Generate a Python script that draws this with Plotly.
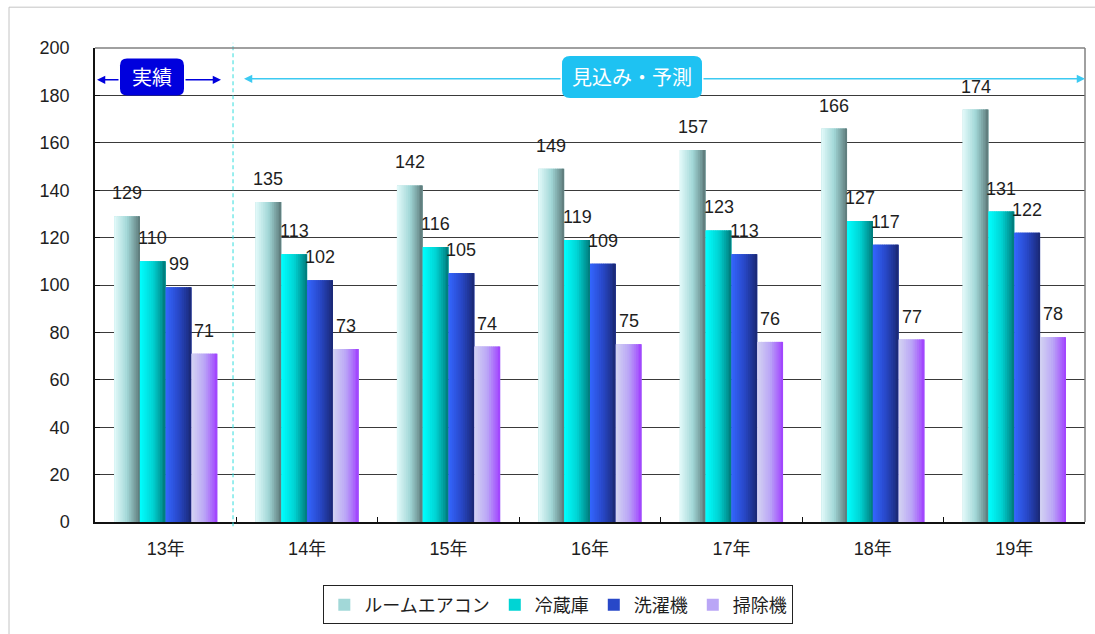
import plotly.graph_objects as go

# 家電の国内需要推移（13年 実績、14年以降 見込み・予測）
years = ["13年", "14年", "15年", "16年", "17年", "18年", "19年"]
series_names = ["ルームエアコン", "冷蔵庫", "洗濯機", "掃除機"]
aircon = [129, 135, 142, 149, 157, 166, 174]
fridge = [110, 113, 116, 119, 123, 127, 131]
washer = [99, 102, 105, 109, 113, 117, 122]
cleaner = [71, 73, 74, 75, 76, 77, 78]
y_ticks = [0, 20, 40, 60, 80, 100, 120, 140, 160, 180, 200]

series_values = [aircon, fridge, washer, cleaner]

# horizontal gradient stops (left, middle, right) for each series
gradients = [
    [(228, 250, 250), (162, 216, 216), (92, 120, 120)],
    [(0, 255, 255), (0, 212, 212), (0, 122, 122)],
    [(52, 102, 255), (40, 72, 200), (26, 40, 116)],
    [(212, 212, 242), (186, 166, 246), (160, 64, 255)],
]

FONT = "Liberation Sans, Arial, Noto Sans CJK JP, sans-serif"
TEXT_COLOR = "#1e1e1e"

W, H = 1095, 634
M_L, M_R, M_T, M_B = 95, 10, 48, 110
PLOT_W = W - M_L - M_R
PLOT_H = H - M_T - M_B
PX_PER_CAT = PLOT_W / len(years)

GROUP = 0.73
BAR_W = GROUP / len(series_names)
N_STRIPES = 14


def grad_color(stops, t):
    if t <= 0.5:
        a, b, f = stops[0], stops[1], t / 0.5
    else:
        a, b, f = stops[1], stops[2], (t - 0.5) / 0.5
    c = [round(a[k] + (b[k] - a[k]) * f) for k in range(3)]
    return f"rgb({c[0]},{c[1]},{c[2]})"


fig = go.Figure()

for i, (name, vals, stops) in enumerate(zip(series_names, series_values, gradients)):
    off = -GROUP / 2 + i * BAR_W
    # solid base bar (also provides the legend entry)
    fig.add_trace(go.Bar(
        x=years, y=vals, name=name, offset=off, width=BAR_W,
        marker=dict(color=grad_color(stops, 0.5), line=dict(width=0)),
        hoverinfo="x+y+name",
    ))
    # gradient stripes laid over the base bar
    step = BAR_W / N_STRIPES
    for k in range(N_STRIPES):
        fig.add_trace(go.Bar(
            x=years, y=vals, offset=off + k * step,
            width=step * (1.6 if k < N_STRIPES - 1 else 1.0),
            marker=dict(color=grad_color(stops, (k + 0.5) / N_STRIPES), line=dict(width=0)),
            showlegend=False, hoverinfo="skip",
        ))
    # value labels above each bar
    for j, v in enumerate(vals):
        fig.add_annotation(
            x=j + off + BAR_W / 2, y=v, xref="x", yref="y",
            text=str(v), showarrow=False, yanchor="bottom", yshift=11,
            font=dict(family=FONT, size=18, color=TEXT_COLOR),
        )


def cat_from_px(px):
    return (px - M_L) / PX_PER_CAT - 0.5


def data_from_py(py):
    return (M_T + PLOT_H - py) / PLOT_H * 200


def rounded_box(cx, cy, w, h, r, color):
    hw, hh = w / 2, h / 2
    path = (
        f"M {-hw + r},{-hh} L {hw - r},{-hh} Q {hw},{-hh} {hw},{-hh + r} "
        f"L {hw},{hh - r} Q {hw},{hh} {hw - r},{hh} "
        f"L {-hw + r},{hh} Q {-hw},{hh} {-hw},{hh - r} "
        f"L {-hw},{-hh + r} Q {-hw},{-hh} {-hw + r},{-hh} Z"
    )
    fig.add_shape(
        type="path", path=path, xref="x", yref="y",
        xsizemode="pixel", ysizemode="pixel", xanchor=cx, yanchor=cy,
        fillcolor=color, line=dict(width=0), layer="above",
    )


def arrow(x_from, x_to, y, color):
    fig.add_annotation(
        x=x_to, y=y, ax=x_from, ay=y, xref="x", yref="y", axref="x", ayref="y",
        text="", showarrow=True, arrowhead=2, arrowsize=1.1, arrowwidth=1.5,
        arrowcolor=color,
    )


# 実績 label with double arrow
BLUE = "#0000dd"
act_cx, act_y, act_w, act_h = cat_from_px(152), data_from_py(77), 64, 37
arrow(act_cx - act_w / 2 / PX_PER_CAT, cat_from_px(97), data_from_py(80), BLUE)
arrow(act_cx + act_w / 2 / PX_PER_CAT, cat_from_px(221), data_from_py(80), BLUE)
rounded_box(act_cx, act_y, act_w, act_h, 7, BLUE)
fig.add_annotation(
    x=act_cx, y=act_y, xref="x", yref="y", text="実績", showarrow=False,
    font=dict(family="Noto Sans CJK JP", size=20, color="white"),
)

# 見込み・予測 label with double arrow
CYAN = "#1ec2f2"
fc_cx, fc_y, fc_w, fc_h = cat_from_px(632), data_from_py(77), 140, 42
arrow(fc_cx - fc_w / 2 / PX_PER_CAT, cat_from_px(244), data_from_py(79), "#3ccaf2")
arrow(fc_cx + fc_w / 2 / PX_PER_CAT, 6.5, data_from_py(79), "#3ccaf2")
rounded_box(fc_cx, fc_y, fc_w, fc_h, 8, CYAN)
fig.add_annotation(
    x=fc_cx, y=fc_y, xref="x", yref="y", text="見込み・予測", showarrow=False,
    font=dict(family="Noto Sans CJK JP", size=20, color="white"),
)

# dashed divider between actual and forecast periods
fig.add_shape(
    type="line", xref="x", yref="paper", x0=0.476, x1=0.476, y0=-0.009, y1=1.011,
    line=dict(color="#33dddd", width=1, dash="4px,3px"), layer="above",
)

# gray top and right frame of the plot area
fig.add_shape(type="line", xref="paper", yref="paper", x0=0, x1=1, y0=1, y1=1,
              line=dict(color="#808080", width=1.5))
fig.add_shape(type="line", xref="paper", yref="paper", x0=1, x1=1, y0=0, y1=1,
              line=dict(color="#808080", width=1.5))

# light outer frame of the chart
fig.add_shape(type="rect", xref="paper", yref="paper",
              x0=(9 - M_L) / PLOT_W, x1=(1100 - M_L) / PLOT_W,
              y0=-(H + 10 - M_T - PLOT_H) / PLOT_H, y1=(M_T + PLOT_H - 7) / PLOT_H,
              line=dict(color="#c4c4c4", width=1), fillcolor="rgba(0,0,0,0)")

fig.update_layout(
    width=W, height=H,
    margin=dict(l=M_L, r=M_R, t=M_T, b=M_B),
    paper_bgcolor="white", plot_bgcolor="white",
    barmode="overlay",
    font=dict(family=FONT, size=18, color=TEXT_COLOR),
    showlegend=True,
    legend=dict(
        orientation="h", x=0.468, y=-0.175, xanchor="center", yanchor="middle",
        bordercolor="#222222", borderwidth=1, bgcolor="white",
        font=dict(family=FONT, size=18, color=TEXT_COLOR),
        itemwidth=30,
    ),
    xaxis=dict(
        type="category", categoryorder="array", categoryarray=years,
        range=[-0.5, 6.5], showline=True, linecolor="#111111", linewidth=1.5,
        ticks="inside", ticklen=5, tickcolor="#111111", tickson="boundaries",
        showgrid=False, ticklabelstandoff=10,
        tickfont=dict(family=FONT, size=18, color=TEXT_COLOR),
    ),
    yaxis=dict(
        range=[0, 200], tickvals=y_ticks, showline=True, linecolor="#111111",
        linewidth=1.5, ticks="inside", ticklen=5, tickcolor="#111111",
        showgrid=True, gridcolor="#3a3a3a", gridwidth=1, zeroline=False,
        ticklabelstandoff=20,
        tickfont=dict(family=FONT, size=18, color=TEXT_COLOR),
    ),
)

fig.write_html("out.html")
